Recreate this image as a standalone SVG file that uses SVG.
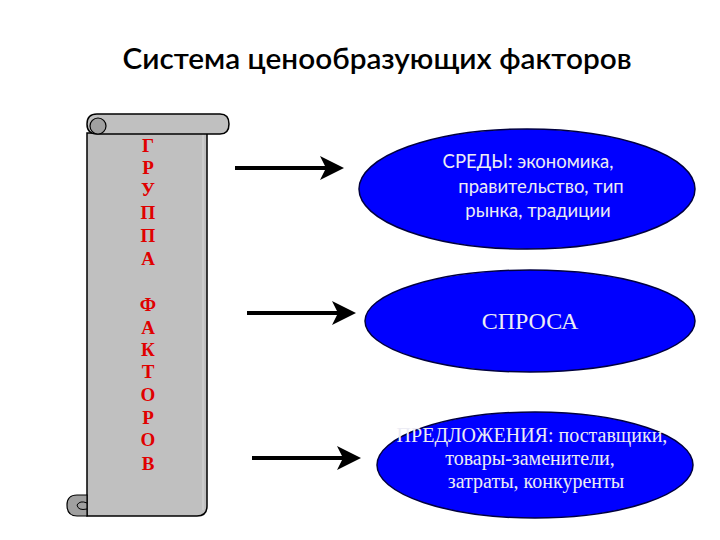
<svg xmlns="http://www.w3.org/2000/svg" width="720" height="540" viewBox="0 0 720 540">
<defs>
<style>
.title{font-family:Lato,"Open Sans","Liberation Sans",sans-serif;font-size:28px;font-weight:600;fill:#000;text-anchor:middle}
.let{font-family:"Liberation Serif","DejaVu Serif",serif;font-weight:bold;font-size:19px;fill:#e00000;text-anchor:middle}
.ell{fill:#0000ff;stroke:#000040;stroke-width:1.5}
.sans{font-family:Lato,"Open Sans","Liberation Sans",sans-serif;font-size:18.5px;fill:#ececf4;text-anchor:middle}
.serif{font-family:"Liberation Serif","DejaVu Serif",serif;fill:#ececf4;text-anchor:middle}
.arr{stroke:#000;stroke-width:4;fill:none;marker-end:url(#ah)}
.scroll{fill:#c0c0c0;stroke:#000;stroke-width:1.5}
</style>
<marker id="ah" markerWidth="6" markerHeight="6" refX="4" refY="3" orient="auto" markerUnits="strokeWidth">
<path d="M0,0 L6,3 L0,6 L1.5,3 Z" fill="#000"/>
</marker>
</defs>
<rect width="720" height="540" fill="#fff"/>
<text class="title" x="377" y="69" textLength="509" lengthAdjust="spacingAndGlyphs">Система ценообразующих факторов</text>

<g id="scroll">
<path class="scroll" d="M87,133 L87,505 L87,516 L197,516 Q207,516 207,506 L207,133 Z"/>
<line x1="203" y1="134" x2="203" y2="510" stroke="#d8d8d8" stroke-width="1"/>
<path class="scroll" d="M97,114 L220,114 Q229,114 229,124 Q229,134 220,134 L97,134 Q87,134 87,124 Q87,114 97,114 Z"/>
<circle cx="98" cy="126" r="8" fill="#a0a0a0" stroke="#000" stroke-width="1.2"/>
<path d="M77,495 Q67,495 67,505 Q67,516 77,516 L87,516 L87,495 Z" fill="#a0a0a0" stroke="#000" stroke-width="1.2"/>
<path d="M87,503 Q80,500 77,505 Q78,511 87,509" fill="none" stroke="#000" stroke-width="1"/>
<text class="let" x="148" y="152">Г</text>
<text class="let" x="148" y="174">Р</text>
<text class="let" x="148" y="196">У</text>
<text class="let" x="148" y="219">П</text>
<text class="let" x="148" y="242">П</text>
<text class="let" x="148" y="265">А</text>
<text class="let" x="148" y="311">Ф</text>
<text class="let" x="148" y="334">А</text>
<text class="let" x="148" y="356">К</text>
<text class="let" x="148" y="378">Т</text>
<text class="let" x="148" y="401">О</text>
<text class="let" x="148" y="424">Р</text>
<text class="let" x="148" y="446">О</text>
<text class="let" x="148" y="470">В</text>
</g>

<g id="connectors">
<line class="arr" x1="235" y1="168" x2="336" y2="168"/>
<line class="arr" x1="247" y1="313" x2="348" y2="313"/>
<line class="arr" x1="252" y1="458" x2="353" y2="458"/>
</g>

<g id="node-sredy">
<ellipse class="ell" cx="527" cy="189" rx="168" ry="60"/>
<text class="sans" x="528" y="168">СРЕДЫ: экономика,</text>
<text class="sans" x="541" y="193">правительство, тип</text>
<text class="sans" x="538" y="217">рынка, традиции</text>
</g>

<g id="node-sprosa">
<ellipse class="ell" cx="530" cy="321" rx="165" ry="51"/>
<text class="serif" x="530" y="329" font-size="24">СПРОСА</text>
</g>

<g id="node-predl">
<ellipse class="ell" cx="535" cy="465" rx="158" ry="53"/>
<text class="serif" x="532" y="442" font-size="20">ПРЕДЛОЖЕНИЯ: поставщики,</text>
<text class="serif" x="530" y="465" font-size="20">товары-заменители,</text>
<text class="serif" x="536" y="488" font-size="20">затраты, конкуренты</text>
</g>
</svg>
